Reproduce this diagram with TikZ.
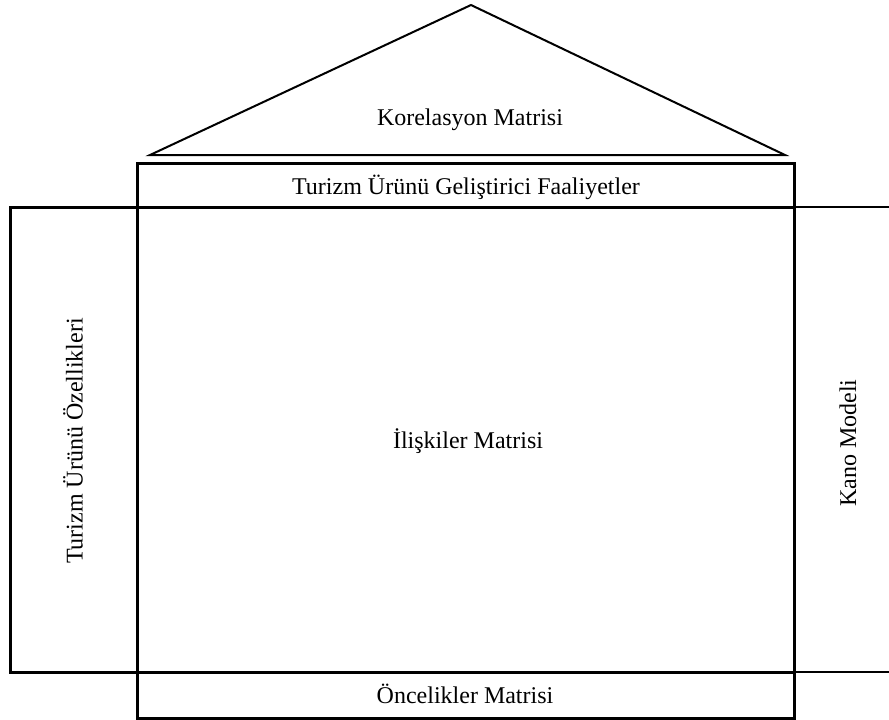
\documentclass[tikz,border=0pt]{standalone}
\usepackage{fontspec}
\setmainfont{Liberation Serif}
\usetikzlibrary{positioning}
\tikzset{
  frame/.style={line width=1.5pt},
  thinline/.style={line width=1pt},
  txt/.style={font=\fontsize{12}{14}\selectfont, inner sep=0pt}
}
\begin{document}
\begin{tikzpicture}[x=0.5pt,y=-0.5pt]
  \useasboundingbox (0,0) rectangle (889,719);
  % roof
  \draw[thinline,line join=miter] (150,155) -- (471,5) -- (785,155) -- cycle;
  \node[txt] (korelasyon) at (470,120) {Korelasyon Matrisi};
  % house body
  \draw[frame] (137,163) rectangle (794,718);
  \draw[frame] (137,207) -- (794,207);
  \draw[frame] (137,672) -- (794,672);
  \draw[frame] (137,207) -- (10,207) -- (10,672) -- (137,672);
  % right side
  \draw[thinline] (794,207) -- (889,207);
  \draw[thinline] (794,672) -- (889,672);
  \node[txt] (faaliyet) at (466,187) {Turizm Ürünü Geliştirici Faaliyetler};
  \node[txt] (iliski) at (468,441) {İlişkiler Matrisi};
  \node[txt] (oncelik) at (465,694) {Öncelikler Matrisi};
  \node[txt,rotate=90] (ozellik) at (73,441) {Turizm Ürünü Özellikleri};
  \node[txt,rotate=90] (kano) at (848,443) {Kano Modeli};
\end{tikzpicture}
\end{document}
